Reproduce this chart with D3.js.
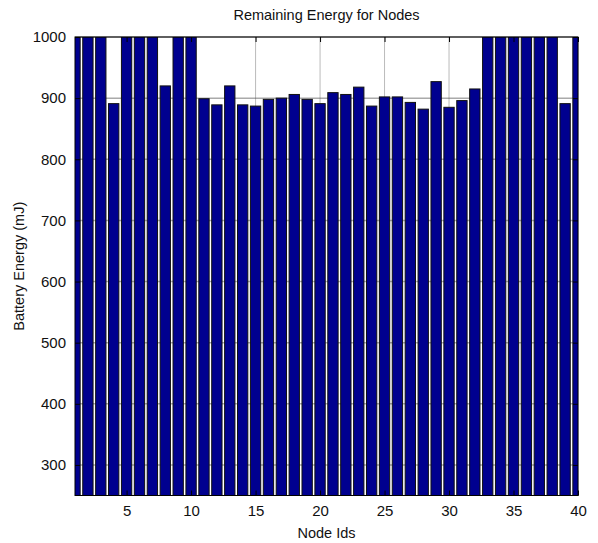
<!DOCTYPE html>
<html>
<head>
<meta charset="utf-8">
<script src="https://cdn.jsdelivr.net/npm/d3@7"></script>
<style>
  html, body { margin: 0; padding: 0; background: #fff; }
  svg { display: block; font-family: "Liberation Sans", Arial, sans-serif; }
</style>
</head>
<body>
<svg id="chart" width="598" height="543"></svg>
<script>
// Node ids and the remaining battery energy of each node (mJ)
const nodeIds = d3.range(1, 41);
const energy = [
  1000, 1000, 1000, 891, 1000, 1000, 1000, 920, 1000, 1000,
  899, 889, 920, 889, 887, 898, 900, 906, 898, 891,
  909, 906, 918, 887, 902, 902, 893, 882, 927, 885,
  896, 915, 1000, 1000, 1000, 1000, 1000, 1000, 891, 1000
];
const xTicks = [5, 10, 15, 20, 25, 30, 35, 40];
const yTicks = [300, 400, 500, 600, 700, 800, 900, 1000];

const margin = { left: 75, right: 20, top: 37, bottom: 47.5 };
const W = 598, H = 543;
const svg = d3.select("#chart");

const x = d3.scaleLinear().domain([1, 40]).range([margin.left, W - margin.right]);
const y = d3.scaleLinear().domain([250, 1000]).range([H - margin.bottom, margin.top]);
const barW = 0.8 * (x(2) - x(1));

svg.append("defs").append("clipPath").attr("id", "plotClip")
  .append("rect")
  .attr("x", x.range()[0]).attr("y", y.range()[1])
  .attr("width", x.range()[1] - x.range()[0])
  .attr("height", y.range()[0] - y.range()[1]);

// grid lines (behind bars)
const grid = svg.append("g");
grid.selectAll("line.hy").data(yTicks).join("line")
  .attr("x1", x.range()[0]).attr("x2", x.range()[1])
  .attr("y1", d => y(d)).attr("y2", d => y(d))
  .attr("stroke", "#aaa").attr("stroke-width", 1.5);
grid.selectAll("line.vx").data(xTicks).join("line")
  .attr("y1", y.range()[0]).attr("y2", y.range()[1])
  .attr("x1", d => x(d)).attr("x2", d => x(d))
  .attr("stroke", "#555").attr("stroke-width", 0.8).attr("stroke-dasharray", "1,1");

// bars
svg.append("g").attr("clip-path", "url(#plotClip)")
  .selectAll("rect").data(nodeIds).join("rect")
  .attr("x", (d) => x(d) - barW / 2)
  .attr("width", barW)
  .attr("y", (d, i) => y(energy[i]))
  .attr("height", (d, i) => y(250) - y(energy[i]) + 2)
  .attr("fill", "#00008f")
  .attr("stroke", "#111")
  .attr("stroke-width", 1);

// axes: left/bottom with labels, top/right ticks only; ticks point inward
const tickLen = 5;
const fmt = d3.format("d");
svg.append("g").attr("transform", `translate(0,${y.range()[0]})`)
  .call(d3.axisBottom(x).tickValues(xTicks).tickSize(-tickLen).tickPadding(10).tickFormat(fmt))
  .call(g => g.select(".domain").remove());
svg.append("g").attr("transform", `translate(0,${y.range()[1]})`)
  .call(d3.axisTop(x).tickValues(xTicks).tickSize(-tickLen).tickFormat(""))
  .call(g => g.select(".domain").remove());
svg.append("g").attr("transform", `translate(${x.range()[0]},0)`)
  .call(d3.axisLeft(y).tickValues(yTicks).tickSize(-tickLen).tickPadding(9).tickFormat(fmt))
  .call(g => g.select(".domain").remove());
svg.append("g").attr("transform", `translate(${x.range()[1]},0)`)
  .call(d3.axisRight(y).tickValues(yTicks).tickSize(-tickLen).tickFormat(""))
  .call(g => g.select(".domain").remove());

svg.selectAll(".tick text").attr("font-size", 15).attr("fill", "#111")
  .attr("font-family", "'Liberation Sans', Arial, sans-serif");
svg.selectAll(".tick line").attr("stroke", "#000");

// frame
svg.append("rect")
  .attr("x", x.range()[0]).attr("y", y.range()[1])
  .attr("width", x.range()[1] - x.range()[0])
  .attr("height", y.range()[0] - y.range()[1])
  .attr("fill", "none").attr("stroke", "#000").attr("stroke-width", 1);

// titles
const cx = (x.range()[0] + x.range()[1]) / 2;
svg.append("text").attr("x", cx).attr("y", 20)
  .attr("text-anchor", "middle").attr("font-size", 14.5).attr("fill", "#111")
  .text("Remaining Energy for Nodes");
svg.append("text").attr("x", cx).attr("y", 538)
  .attr("text-anchor", "middle").attr("font-size", 14.5).attr("fill", "#111")
  .text("Node Ids");
svg.append("text")
  .attr("transform", `translate(24,${(y.range()[0] + y.range()[1]) / 2}) rotate(-90)`)
  .attr("text-anchor", "middle").attr("font-size", 14.5).attr("fill", "#111")
  .text("Battery Energy (mJ)");
</script>
</body>
</html>
